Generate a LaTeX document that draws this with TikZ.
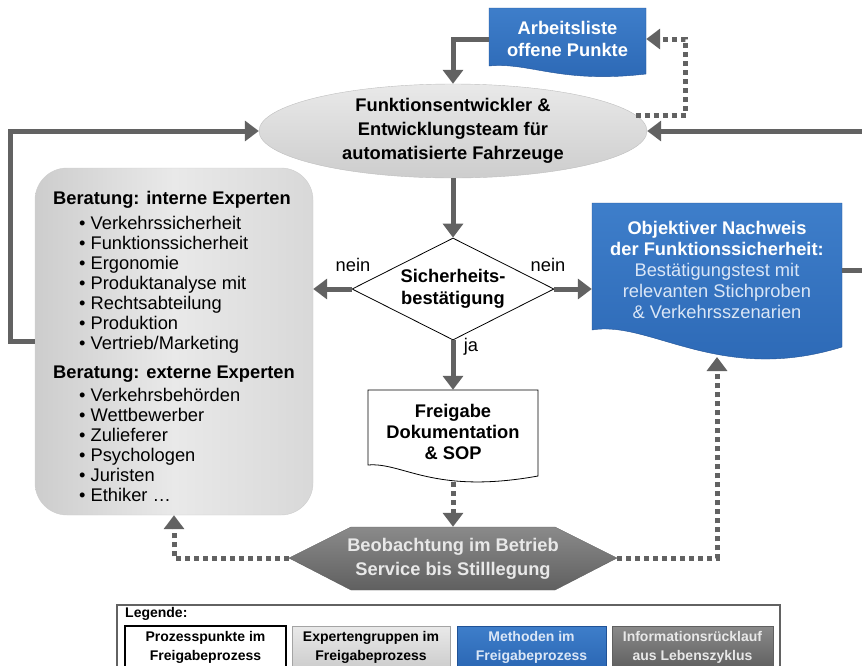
\documentclass[tikz,border=0pt]{standalone}
\usepackage{fontspec}
\setmainfont{Liberation Sans}
\usetikzlibrary{arrows.meta,shapes.geometric}
\definecolor{blau}{RGB}{43,103,180}
\definecolor{blauhell}{RGB}{62,126,202}
\definecolor{blaurand}{RGB}{32,82,150}
\definecolor{textblau}{RGB}{218,230,246}
\definecolor{pfeilgrau}{RGB}{98,98,98}
\definecolor{hexoben}{RGB}{138,138,138}
\definecolor{hexunten}{RGB}{96,96,96}
\definecolor{hextext}{RGB}{232,232,232}
\definecolor{hellrand}{RGB}{205,205,205}
\definecolor{hellmitte}{RGB}{233,233,233}
\definecolor{ellrand}{RGB}{190,190,190}
\newcommand{\pkt}{\hspace*{26pt}•\ }
\begin{document}
\begin{tikzpicture}[x=1pt,y=-1pt,
  font=\fontsize{18.3}{22}\selectfont,
  pfeil/.style={line width=5pt,draw=pfeilgrau,-{Triangle[length=14pt,width=20pt]}},
  punkt/.style={pfeil,dash pattern=on 5pt off 4pt},
  feld/.style={inner sep=0pt,align=center},
  leg/.style={feld,minimum height=42pt,font=\bfseries\fontsize{14}{19}\selectfont}]
\useasboundingbox (0,0) rectangle (862,665);

% Arbeitsliste
\path[draw=blaurand,top color=blauhell,bottom color=blau] (489,8) -- (646,8) -- (646,74)
  .. controls (560,84) and (530,62) .. (489,66) -- cycle;
\node[feld,minimum width=157pt,minimum height=62pt,text=white,font=\bfseries\fontsize{18.3}{22}\selectfont] (arb) at (567.5,39) {Arbeitsliste\\offene Punkte};

% Entwicklungsteam
\node[ellipse,draw=ellrand,top color=hellmitte,bottom color=hellrand,minimum width=388pt,minimum height=94pt,feld,font=\bfseries\fontsize{18.3}{24}\selectfont] (fe) at (453,131) {Funktionsentwickler \&\\Entwicklungsteam für\\automatisierte Fahrzeuge};

% Experten
\node[draw=hellrand,rounded corners=32pt,left color=hellrand,right color=hellrand!60!hellmitte,middle color=hellmitte,minimum width=278pt,minimum height=347pt,inner sep=0pt,align=left,font=\fontsize{18.3}{20}\selectfont] (exp) at (174,341.5) {%
\rule{0pt}{24pt}\textbf{Beratung: interne Experten}\\[5pt]
\pkt Verkehrssicherheit\\
\pkt Funktionssicherheit\\
\pkt Ergonomie\\
\pkt Produktanalyse mit\\
\pkt Rechtsabteilung\\
\pkt Produktion\\
\pkt Vertrieb/Marketing\\[9pt]
\textbf{Beratung: externe Experten}\\[3pt]
\pkt Verkehrsbehörden\\
\pkt Wettbewerber\\
\pkt Zulieferer\\
\pkt Psychologen\\
\pkt Juristen\\
\pkt Ethiker …};

% Sicherheitsbestaetigung
\node[diamond,aspect=2,draw=black,line width=0.8pt,fill=white,minimum width=202pt,minimum height=102pt,feld,font=\bfseries\fontsize{18.3}{22}\selectfont] (dia) at (453,289) {Sicherheits-\\bestätigung};

% Nachweis
\path[draw=blaurand,top color=blauhell,bottom color=blau] (592,203) -- (842,203) -- (842,347)
  .. controls (720,385) and (650,320) .. (592,330) -- cycle;
\node[feld,minimum width=250pt,minimum height=134pt,text=white,font=\fontsize{18.3}{21}\selectfont] (obj) at (717,270) {\textbf{Objektiver Nachweis}\\\textbf{der Funktionssicherheit:}\\{\color{textblau}Bestätigungstest mit}\\{\color{textblau}relevanten Stichproben}\\{\color{textblau}\& Verkehrsszenarien}};
\coordinate (obju) at (717,357);

% Freigabe
\path[draw=black,line width=0.8pt,fill=white] (368,390) -- (538,390) -- (538,476)
  .. controls (433,495) and (403,462) .. (368,465) -- cycle;
\node[feld,minimum width=170pt,minimum height=84pt,font=\bfseries\fontsize{18.3}{21}\selectfont] (frei) at (453,432) {Freigabe\\Dokumentation\\\& SOP};
\coordinate (freiu) at (453,482);

% Beobachtung
\path[draw=hexunten,top color=hexoben,bottom color=hexunten] (289,558) -- (351,527) -- (555,527)
  -- (617,558) -- (555,590) -- (351,590) -- cycle;
\node[feld,minimum width=328pt,minimum height=63pt,text=hextext,font=\bfseries\fontsize{18.3}{24}\selectfont] (beo) at (453,558.5) {Beobachtung im Betrieb\\Service bis Stilllegung};

% Verbindungen
\draw[pfeil] (arb.west) -| (fe.north);
\draw[punkt] (fe.5) -- ++(50,0) |- (arb.east);
\draw[pfeil] (exp.west) -- ++(-24,0) |- (fe.west);
\draw[pfeil] (obj.east) -- ++(40,0) |- (fe.east);
\draw[pfeil] (fe.south) -- (dia.north);
\draw[pfeil] (dia.west) -- (dia.west -| exp.east);
\draw[pfeil] (dia.east) -- (dia.east -| obj.west);
\draw[pfeil] (dia.south) -- (frei.north);
\draw[punkt] (freiu) -- (beo.north);
\draw[punkt] (beo.west) -| (exp.south);
\draw[punkt] (beo.east) -| (obju);
\node (neinl) at (353,265) {nein};
\node (neinr) at (548,265) {nein};
\node (ja) at (471,347) {ja};

% Legende
\draw[line width=1.2pt,draw=pfeilgrau] (117,605) rectangle (780,675);
\node[anchor=base west,inner sep=0pt,font=\bfseries\fontsize{14}{17}\selectfont] (legt) at (125,617) {Legende:};
\node[leg,draw=black,line width=1.5pt,fill=white,minimum width=161pt] (leg1) at (205.5,647) {Prozesspunkte im\\Freigabeprozess};
\node[leg,draw=hellrand!80!black,top color=hellmitte,bottom color=hellrand,minimum width=158pt] (leg2) at (371,647) {Expertengruppen im\\Freigabeprozess};
\node[leg,draw=blaurand,top color=blauhell,bottom color=blau,text=textblau,minimum width=149pt] (leg3) at (531.5,647) {Methoden im\\Freigabeprozess};
\node[leg,draw=hexunten,top color=hexoben,bottom color=hexunten,text=hextext,minimum width=161pt] (leg4) at (692.5,647) {Informationsrücklauf\\aus Lebenszyklus};
\end{tikzpicture}
\end{document}
